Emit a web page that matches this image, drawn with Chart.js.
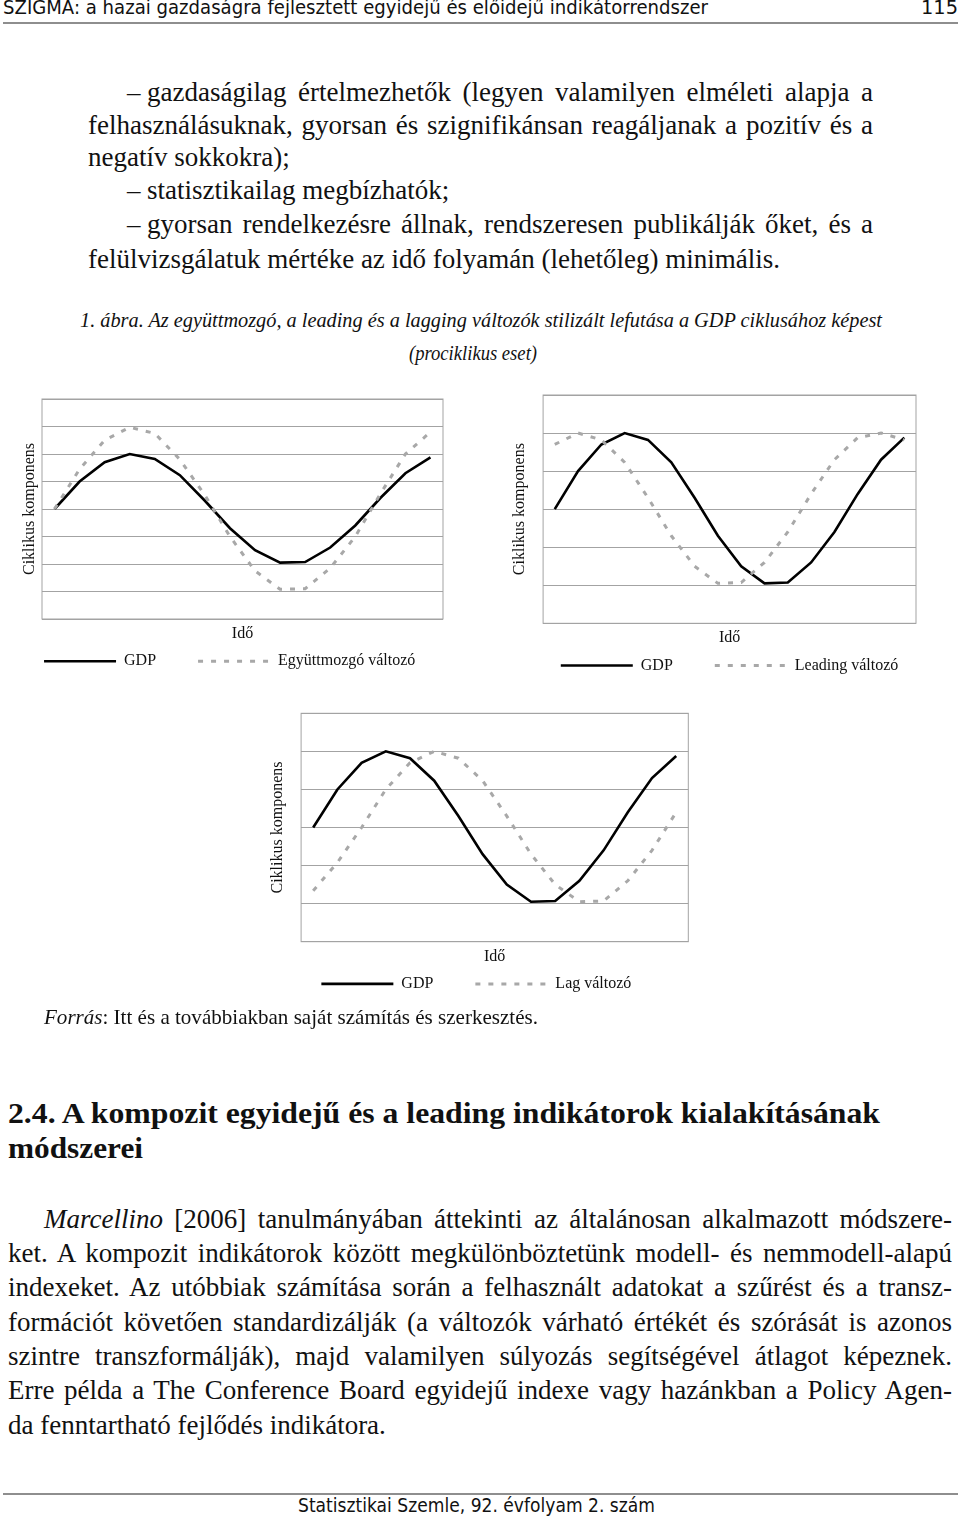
<!DOCTYPE html>
<html lang="hu">
<head>
<meta charset="utf-8">
<script src="https://cdn.jsdelivr.net/npm/chart.js@4.4.1/dist/chart.umd.min.js"></script>
<style>
html, body { margin: 0; padding: 0; background: #fff; }
body { width: 960px; height: 1521px; position: relative; overflow: hidden;
       font-family: 'Liberation Serif', 'Times New Roman', serif; color: #111; }
.t { position: absolute; white-space: nowrap; line-height: 1; transform-origin: 0 50%; }
.sans { font-family: 'DejaVu Sans', 'Noto Sans', sans-serif; }
.rule { position: absolute; left: 3px; width: 955px; height: 2px; background: #8e8e8e; }
canvas { position: absolute; }
</style>
</head>
<body>
<div class="rule" style="top:22px"></div>
<div class="rule" style="top:1493px"></div>

<canvas id="c1" width="470" height="300" style="left:0px;top:388px"></canvas>
<canvas id="c2" width="460" height="310" style="left:490px;top:384px"></canvas>
<canvas id="c3" width="470" height="310" style="left:250px;top:702px"></canvas>

<script>
// time periods on the x axis (no tick labels are shown in the figure)
const timeLabels = ['t1', 't2', 't3', 't4', 't5', 't6', 't7', 't8',
                    't9', 't10', 't11', 't12', 't13', 't14', 't15', 't16'];

// stylised cyclical components
const gdp        = [0, 1.0, 1.7, 2.0, 1.82, 1.23, 0.3, -0.7, -1.5, -1.95, -1.93, -1.4, -0.6, 0.4, 1.3, 1.88];
const coincident = [0, 1.45, 2.5, 2.97, 2.75, 1.8, 0.5, -1.0, -2.25, -2.92, -2.9, -2.15, -1.0, 0.55, 2.0, 2.8];
const leading    = [1.7, 2.0, 1.82, 1.23, 0.3, -0.7, -1.5, -1.95, -1.93, -1.4, -0.6, 0.4, 1.3, 1.88, 2.0, 1.82];
const lagging    = [-1.66, -0.92, 0, 1.0, 1.7, 2.0, 1.82, 1.23, 0.3, -0.7, -1.5, -1.95, -1.93, -1.4, -0.6, 0.4];

// ---- page text: [html, left, right, centre y, font size, class, mode]
// mode 'j' = justify to right edge, 's' = squeeze/stretch to width, '' = as is
const lines = [
  ['SZIGMA: a hazai gazdaságra fejlesztett egyidejű és előidejű indikátorrendszer', 3, 708, 9, 20, 'sans', 's'],
  ['115', 921, 958, 9, 20, 'sans', 's'],

  ['–', 127, 0, 95, 27, '', ''],
  ['gazdaságilag értelmezhetők (legyen valamilyen elméleti alapja a', 147, 873, 95, 27, '', 'j'],
  ['felhasználásuknak, gyorsan és szignifikánsan reagáljanak a pozitív és a', 88, 873, 128, 27, '', 'j'],
  ['negatív sokkokra);', 88, 0, 160, 27, '', ''],
  ['–', 127, 0, 193, 27, '', ''],
  ['statisztikailag megbízhatók;', 147, 0, 193, 27, '', ''],
  ['–', 127, 0, 227, 27, '', ''],
  ['gyorsan rendelkezésre állnak, rendszeresen publikálják őket, és a', 147, 873, 227, 27, '', 'j'],
  ['felülvizsgálatuk mértéke az idő folyamán (lehetőleg) minimális.', 88, 0, 262, 27, '', ''],

  ['<i>1. ábra. Az együttmozgó, a leading és a lagging változók stilizált lefutása a GDP ciklusához képest</i>', 80, 882, 323, 21, '', 's'],
  ['<i>(prociklikus eset)</i>', 409, 537, 356, 21, '', 's'],

  ['<i>Forrás</i>: Itt és a továbbiakban saját számítás és szerkesztés.', 44, 538, 1020, 21, '', 's'],

  ['<b>2.4. A kompozit egyidejű és a leading indikátorok kialakításának</b>', 8, 880, 1116, 30, '', 's'],
  ['<b>módszerei</b>', 8, 143, 1151, 30, '', 's'],

  ['<i>Marcellino</i> [2006] tanulmányában áttekinti az általánosan alkalmazott módszere-', 44, 952, 1222, 27, '', 'j'],
  ['ket. A kompozit indikátorok között megkülönböztetünk modell- és nemmodell-alapú', 8, 952, 1256, 27, '', 'j'],
  ['indexeket. Az utóbbiak számítása során a felhasznált adatokat a szűrést és a transz-', 8, 952, 1290, 27, '', 'j'],
  ['formációt követően standardizálják (a változók várható értékét és szórását is azonos', 8, 952, 1325, 27, '', 'j'],
  ['szintre transzformálják), majd valamilyen súlyozás segítségével átlagot képeznek.', 8, 952, 1359, 27, '', 'j'],
  ['Erre példa a The Conference Board egyidejű indexe vagy hazánkban a Policy Agen-', 8, 952, 1393, 27, '', 'j'],
  ['da fenntartható fejlődés indikátora.', 8, 0, 1428, 27, '', ''],

  ['Statisztikai Szemle, 92. évfolyam 2. szám', 298, 655, 1507, 20, 'sans', 's']
];

lines.forEach(([html, x0, x1, cy, fs, cls, mode]) => {
  const el = document.createElement('div');
  el.className = 't ' + cls;
  el.innerHTML = html;
  el.style.left = x0 + 'px';
  el.style.top = (cy - fs * 0.6) + 'px';
  el.style.fontSize = fs + 'px';
  document.body.appendChild(el);
  if (!mode) return;
  const w = el.getBoundingClientRect().width;
  const target = x1 - x0;
  const gaps = (el.textContent.match(/ /g) || []).length;
  if (mode === 'j' && w < target && gaps) {
    el.style.wordSpacing = ((target - w) / gaps) + 'px';
  } else {
    el.style.transform = 'scaleX(' + (target / w) + ')';
  }
});

// ---- charts
const serif = { family: "'Liberation Serif', 'Times New Roman', serif", size: 16 };

// grey box round the plot area
const framePlugin = {
  id: 'frame',
  beforeDatasetsDraw(chart) {
    const { ctx, chartArea: a } = chart;
    ctx.save();
    ctx.strokeStyle = '#a3a3a3';
    ctx.lineWidth = 1;
    ctx.strokeRect(a.left, a.top, a.right - a.left, a.bottom - a.top);
    ctx.restore();
  }
};

function makeChart(id, otherLabel, otherData, yMax, padding, yTitleGap, legendFull) {
  return new Chart(document.getElementById(id), {
    type: 'line',
    data: {
      labels: timeLabels,
      datasets: [
        {
          label: 'GDP',
          data: gdp,
          borderColor: '#000',
          borderWidth: 2.6,
          pointRadius: 0,
          tension: 0,
          fill: false,
          order: 1
        },
        {
          label: otherLabel,
          data: otherData,
          borderColor: '#a8a8a8',
          borderWidth: 3,
          borderDash: [5, 8],
          pointRadius: 0,
          tension: 0,
          fill: false,
          order: 0
        }
      ]
    },
    options: {
      responsive: false,
      animation: false,
      layout: { padding: padding },
      plugins: {
        tooltip: { enabled: false },
        legend: {
          position: 'bottom',
          fullSize: legendFull,
          labels: {
            usePointStyle: true,
            pointStyle: 'line',
            pointStyleWidth: 72,
            color: '#111',
            font: serif,
            padding: 10,
            generateLabels(chart) {
              const items = Chart.defaults.plugins.legend.labels.generateLabels(chart);
              items.sort((a, b) => a.datasetIndex - b.datasetIndex);
              // point-style items take the point options, so copy the line style over
              items.forEach(item => {
                const ds = chart.data.datasets[item.datasetIndex];
                item.lineDash = ds.borderDash || [];
                item.lineWidth = ds.borderWidth;
                item.strokeStyle = ds.borderColor;
              });
              items[0].text += '\u2003\u2003';
              return items;
            }
          }
        }
      },
      scales: {
        x: {
          type: 'category',
          offset: true,
          grid: { display: false, drawTicks: false },
          border: { display: false },
          ticks: { display: false },
          title: { display: true, text: 'Idő', color: '#111', font: serif, padding: { top: 5, bottom: 0 } }
        },
        y: {
          min: -yMax,
          max: yMax,
          ticks: { display: false, stepSize: 1 },
          grid: { color: '#a3a3a3', lineWidth: 1, drawTicks: false },
          border: { display: false },
          title: { display: true, text: 'Ciklikus komponens', color: '#111', font: serif,
                   padding: { top: 4, bottom: yTitleGap } }
        }
      }
    },
    plugins: [framePlugin]
  });
}

makeChart('c1', 'Együttmozgó változó', coincident, 4, { left: 16.4, right: 27, top: 11, bottom: 8.8 }, 2.4, true);
makeChart('c2', 'Leading változó', leading, 3, { left: 16.4, right: 34, top: 11, bottom: 10.5 }, 13.5, false);
makeChart('c3', 'Lag változó', lagging, 3, { left: 14.4, right: 31.7, top: 11.3, bottom: 10.1 }, 13.5, true);
</script>
</body>
</html>
